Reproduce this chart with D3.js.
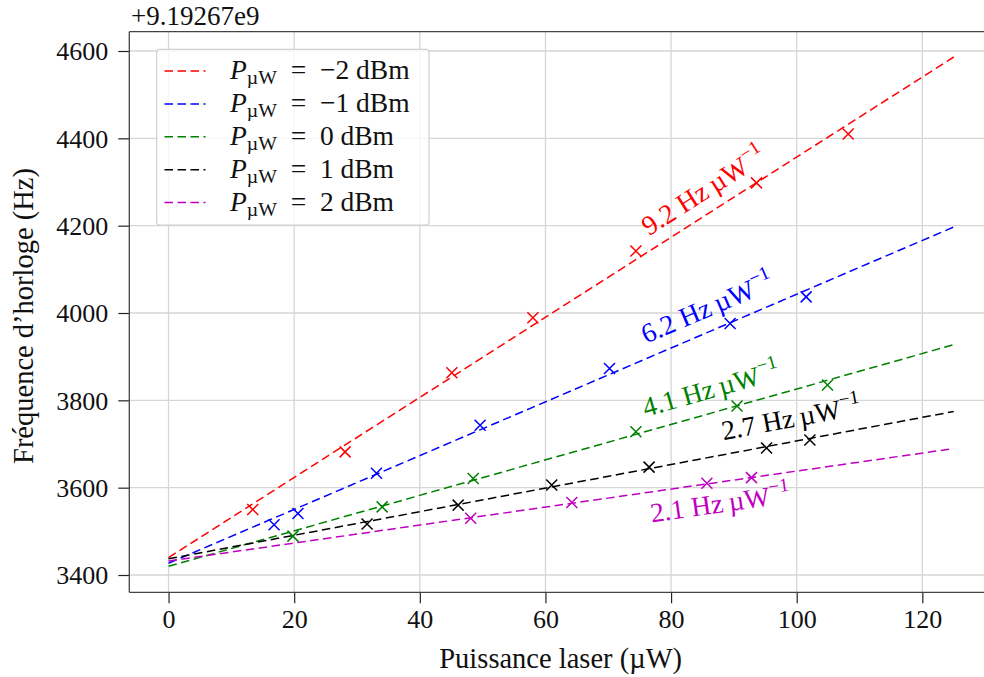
<!DOCTYPE html>
<html>
<head>
<meta charset="utf-8">
<script src="https://cdn.jsdelivr.net/npm/d3@7"></script>
<style>
  html, body { margin: 0; padding: 0; background: #fff; }
  svg { display: block; }
  text { font-family: "Liberation Serif", "Times New Roman", serif; }
</style>
</head>
<body>
<svg id="chart" width="984" height="677"></svg>
<script>
// ---------------- data ----------------
const powerLevels = ["\u22122", "\u22121", "0", "1", "2"];           // P_µW in dBm
const seriesColors = ["#ff0000", "#0000ff", "#008000", "#000000", "#bf00bf"];

// measured points (x: laser power µW, y: clock frequency - 9.19267e9 Hz)
const redX = [13.4, 28.1, 45.1, 58.0, 74.4, 93.6, 108.2];
const redY = [3550, 3682, 3863, 3989, 4142, 4298, 4410];
const blueX = [16.8, 20.6, 33.1, 49.6, 70.2, 89.4, 101.5];
const blueY = [3515, 3541, 3633, 3743, 3873, 3976, 4037];
const greenX = [19.8, 34.0, 48.5, 74.4, 90.5, 104.9];
const greenY = [3489, 3556, 3621, 3728, 3787, 3835];
const blackX = [31.6, 46.1, 61.0, 76.5, 95.2, 102.1];
const blackY = [3517, 3560, 3606, 3647, 3691, 3709];
const magentaX = [48.1, 64.2, 85.7, 92.8];
const magentaY = [3530, 3566, 3610, 3623];

// linear fits: intercept (Hz) and slope (Hz/µW), drawn over 0..125 µW
const fitIntercepts = [3440, 3427, 3420, 3437, 3432];
const fitSlopes = [9.17, 6.16, 4.06, 2.70, 2.06];
const fitRange = [0, 125];

// slope annotations
const slopeLabels = ["9.2", "6.2", "4.1", "2.7", "2.1"];
const slopeLabelX = [85.1, 85.7, 86.3, 99.1, 87.8];
const slopeLabelY = [4282, 4014, 3828, 3761, 3566];

const xTicks = [0, 20, 40, 60, 80, 100, 120];
const yTicks = [3400, 3600, 3800, 4000, 4200, 4400, 4600];
const offsetText = "+9.19267e9";
const xLabel = "Puissance laser (\u00b5W)";
const yLabel = "Fr\u00e9quence d\u2019horloge (Hz)";

const pointsX = [redX, blueX, greenX, blackX, magentaX];
const pointsY = [redY, blueY, greenY, blackY, magentaY];

// ---------------- layout ----------------
const svg = d3.select("#chart");
const plot = { left: 129.3, right: 993, top: 31.7, bottom: 592.3 };

const x = d3.scaleLinear().domain([-6.25, 131.25]).range([plot.left, plot.right]);
const y = d3.scaleLinear().domain([3360.4, 4644.2]).range([plot.bottom, plot.top]);

const FS = 26;
const FL = 27.5;

// grid
const grid = svg.append("g");
grid.selectAll(".vg").data(xTicks).join("line")
  .attr("x1", d => x(d)).attr("x2", d => x(d))
  .attr("y1", plot.top).attr("y2", plot.bottom)
  .attr("stroke", "#d6d6d6").attr("stroke-width", 1.3);
grid.selectAll(".hg").data(yTicks).join("line")
  .attr("x1", plot.left).attr("x2", plot.right)
  .attr("y1", d => y(d)).attr("y2", d => y(d))
  .attr("stroke", "#d6d6d6").attr("stroke-width", 1.3);

// axes
const xAxis = d3.axisBottom(x).tickValues(xTicks).tickSize(11).tickPadding(6).tickFormat(d3.format("d"));
const yAxis = d3.axisLeft(y).tickValues(yTicks).tickSize(11).tickPadding(10).tickFormat(d3.format("d"));

const gx = svg.append("g").attr("transform", `translate(0,${plot.bottom})`).call(xAxis);
const gy = svg.append("g").attr("transform", `translate(${plot.left},0)`).call(yAxis);
[gx, gy].forEach(g => {
  g.select(".domain").remove();
  g.selectAll(".tick line").attr("stroke", "#222").attr("stroke-width", 1.2);
  g.selectAll(".tick text").attr("font-size", FS).attr("fill", "#111")
    .style("font-family", "'Liberation Serif', serif");
});
gy.selectAll(".tick text").attr("dy", "0.34em");

// spines
[[plot.left, plot.right, plot.bottom, plot.bottom],
 [plot.left, plot.right, plot.top, plot.top],
 [plot.left, plot.left, plot.top, plot.bottom],
 [plot.right, plot.right, plot.top, plot.bottom]].forEach(s => {
  svg.append("line").attr("x1", s[0]).attr("x2", s[1]).attr("y1", s[2]).attr("y2", s[3])
    .attr("stroke", "#444").attr("stroke-width", 1.3);
});

// fit lines
const lineGen = d3.line().x(d => x(d[0])).y(d => y(d[1]));
const fitsG = svg.append("g");
powerLevels.forEach((p, i) => {
  const pts = fitRange.map(v => [v, fitIntercepts[i] + fitSlopes[i] * v]);
  fitsG.append("path").attr("d", lineGen(pts))
    .attr("fill", "none").attr("stroke", seriesColors[i])
    .attr("stroke-width", 1.5).attr("stroke-dasharray", "8.5,4.5");
});

// markers
const ms = 5.5;
const markG = svg.append("g");
powerLevels.forEach((p, i) => {
  const pts = pointsX[i].map((v, k) => [v, pointsY[i][k]]);
  markG.selectAll(null).data(pts).join("path")
    .attr("d", d => {
      const cx = x(d[0]), cy = y(d[1]);
      return `M${cx - ms},${cy - ms}L${cx + ms},${cy + ms}M${cx - ms},${cy + ms}L${cx + ms},${cy - ms}`;
    })
    .attr("stroke", seriesColors[i]).attr("stroke-width", 1.5).attr("fill", "none");
});

// slope annotations
const annG = svg.append("g");
powerLevels.forEach((p, i) => {
  const dx = x(fitRange[1]) - x(fitRange[0]);
  const dy = y(fitIntercepts[i] + fitSlopes[i] * fitRange[1]) - y(fitIntercepts[i] + fitSlopes[i] * fitRange[0]);
  const ang = Math.atan2(dy, dx) * 180 / Math.PI;
  const t = annG.append("text")
    .attr("transform", `translate(${x(slopeLabelX[i])},${y(slopeLabelY[i])}) rotate(${ang})`)
    .attr("x", 0).attr("y", 10)
    .attr("text-anchor", "middle")
    .attr("font-size", FL).attr("fill", seriesColors[i]);
  t.append("tspan").text(`${slopeLabels[i]} Hz\u2009\u00b5W`);
  t.append("tspan").attr("font-size", FL * 0.7).attr("dy", -12).text("\u22121");
});

// legend
const leg = svg.append("g");
leg.append("rect").attr("x", 156.7).attr("y", 49.3).attr("width", 272.3).attr("height", 175.7)
  .attr("rx", 3).attr("fill", "rgba(255,255,255,0.8)").attr("stroke", "#d0d0d0").attr("stroke-width", 1.2);
const rowY0 = 71, rowStep = 32.9;
powerLevels.forEach((p, i) => {
  const ry = rowY0 + i * rowStep;
  leg.append("line").attr("x1", 164.5).attr("x2", 205.5).attr("y1", ry).attr("y2", ry)
    .attr("stroke", seriesColors[i]).attr("stroke-width", 1.5).attr("stroke-dasharray", "8.5,4.5");
  const t = leg.append("text").attr("x", 230).attr("y", ry + 8).attr("font-size", FL).attr("fill", "#111");
  t.append("tspan").attr("font-style", "italic").text("P");
  t.append("tspan").attr("font-size", FL * 0.72).attr("dy", 5).text("\u00b5W");
  t.append("tspan").attr("dy", -5).text(`\u2002=\u2002${p} dBm`);
});

// axis labels
svg.append("text").attr("x", (plot.left + plot.right) / 2 - 0.5).attr("y", 668)
  .attr("text-anchor", "middle").attr("font-size", 28.5).attr("fill", "#111").text(xLabel);
svg.append("text").attr("transform", `translate(33,${(plot.top + plot.bottom) / 2 + 4}) rotate(-90)`)
  .attr("text-anchor", "middle").attr("font-size", 28.5).attr("fill", "#111").text(yLabel);

// offset text
svg.append("text").attr("x", 131).attr("y", 25).attr("font-size", 27).attr("fill", "#111").text(offsetText);
</script>
</body>
</html>
